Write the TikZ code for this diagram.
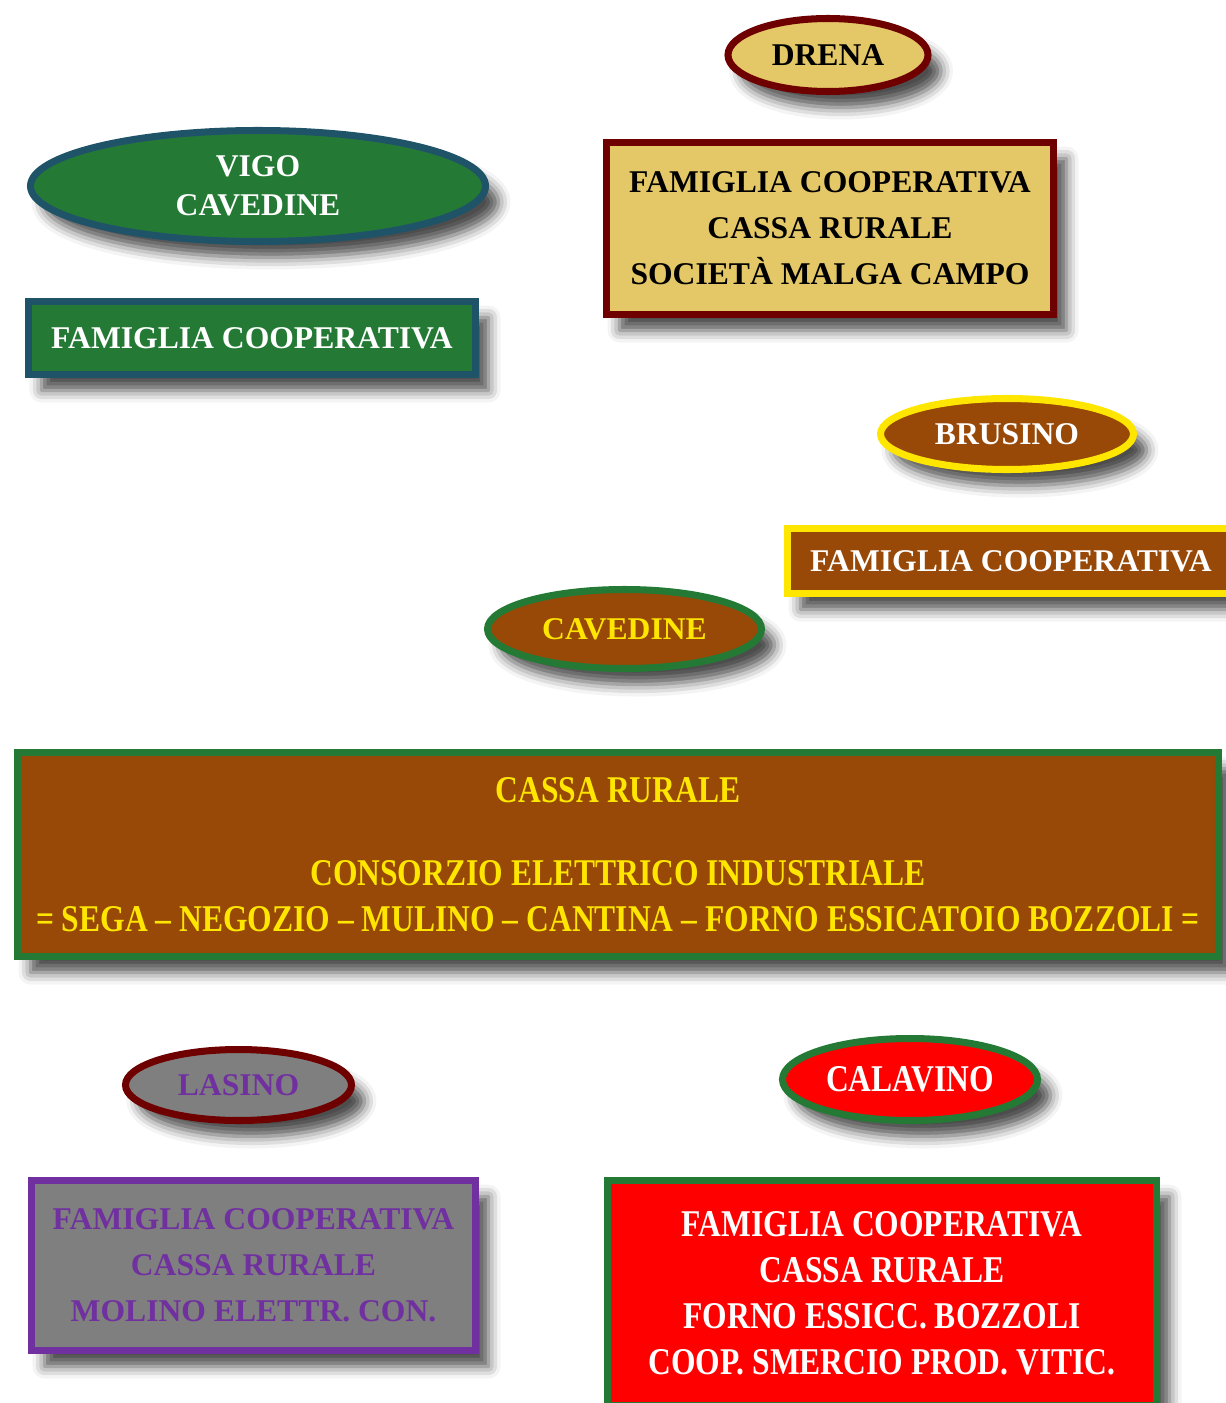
\documentclass[tikz,border=0pt]{standalone}
\usepackage{fontspec}
\setmainfont{Liberation Serif}
\newfontfamily\narrowserif[FakeStretch=0.835]{Liberation Serif}
\usetikzlibrary{shapes.geometric,shadows.blur}

\definecolor{oro}{HTML}{E4C767}
\definecolor{bordeaux}{HTML}{6E0000}
\definecolor{prato}{HTML}{247A35}
\definecolor{petrolio}{HTML}{1F5468}
\definecolor{castagna}{HTML}{984807}
\definecolor{giallo}{HTML}{FFE600}
\definecolor{grigio}{HTML}{7F7F7F}
\definecolor{viola}{HTML}{7030A0}

\begin{document}
\begin{tikzpicture}[
    town/.style ={ellipse, line width=4pt, inner sep=0pt, align=center,
      font=\fontsize{18}{22}\selectfont\bfseries,
      blur shadow={shadow xshift=0.26cm, shadow yshift=-0.32cm,
        shadow blur radius=0.24cm, shadow opacity=70}},
    group/.style ={rectangle, line width=4pt, inner sep=0pt, align=center,
      font=\fontsize{18}{26.2}\selectfont\bfseries,
      blur shadow={shadow xshift=0.26cm, shadow yshift=-0.32cm,
        shadow blur radius=0.24cm, shadow opacity=70}},
    narrow/.style ={font=\narrowserif\fontsize{21.5}{26.2}\selectfont\bfseries}]
   \useasboundingbox (0,0) rectangle (24.52,-28.06);
   \clip (0,0) rectangle (24.52,-28.06);

   % Drena
   \node[town, fill=oro, draw=bordeaux, text=black,
     minimum width=4cm, minimum height=1.46cm] (drena) at (16.56,-1.10) {DRENA};
   \node[group, fill=oro, draw=bordeaux, text=black,
     minimum width=8.94cm, minimum height=3.44cm] (drenaBox) at (16.60,-4.57)
     {FAMIGLIA COOPERATIVA\\CASSA RURALE\\SOCIETÀ MALGA CAMPO};

   % Vigo Cavedine
   \node[town, fill=prato, draw=petrolio, text=white,
     minimum width=9.10cm, minimum height=2.22cm] (vigo) at (5.16,-3.72) {VIGO\\CAVEDINE};
   \node[group, fill=prato, draw=petrolio, text=white,
     minimum width=8.94cm, minimum height=1.46cm] (vigoBox) at (5.04,-6.76)
     {FAMIGLIA COOPERATIVA};

   % Brusino
   \node[town, fill=castagna, draw=giallo, text=white,
     minimum width=5.06cm, minimum height=1.42cm] (brusino) at (20.14,-8.68) {BRUSINO};
   \node[group, fill=castagna, draw=giallo, text=white,
     minimum width=8.94cm, minimum height=1.30cm] (brusinoBox) at (20.22,-11.22)
     {FAMIGLIA COOPERATIVA};

   % Cavedine
   \node[town, fill=castagna, draw=prato, text=giallo,
     minimum width=5.48cm, minimum height=1.58cm] (cavedine) at (12.49,-12.58) {CAVEDINE};
   \node[group, narrow, fill=castagna, draw=prato, text=giallo,
     minimum width=24.02cm, minimum height=4.08cm] (cavedineBox) at (12.36,-17.09)
     {CASSA RURALE\\[21pt]CONSORZIO ELETTRICO INDUSTRIALE\\
      = SEGA – NEGOZIO – MULINO – CANTINA – FORNO ESSICATOIO BOZZOLI =};

   % Lasino
   \node[town, fill=grigio, draw=bordeaux, text=viola,
     minimum width=4.52cm, minimum height=1.42cm] (lasino) at (4.77,-21.70) {LASINO};
   \node[group, fill=grigio, draw=viola, text=viola,
     minimum width=8.88cm, minimum height=3.40cm] (lasinoBox) at (5.07,-25.31)
     {FAMIGLIA COOPERATIVA\\CASSA RURALE\\MOLINO ELETTR. CON.};

   % Calavino
   \node[town, narrow, fill=red, draw=prato, text=white,
     minimum width=5.10cm, minimum height=1.64cm] (calavino) at (18.20,-21.59) {CALAVINO};
   \node[group, narrow, fill=red, draw=prato, text=white,
     minimum width=10.98cm, minimum height=4.50cm] (calavinoBox) at (17.64,-25.86)
     {FAMIGLIA COOPERATIVA\\CASSA RURALE\\FORNO ESSICC. BOZZOLI\\COOP. SMERCIO PROD. VITIC.};
\end{tikzpicture}
\end{document}
